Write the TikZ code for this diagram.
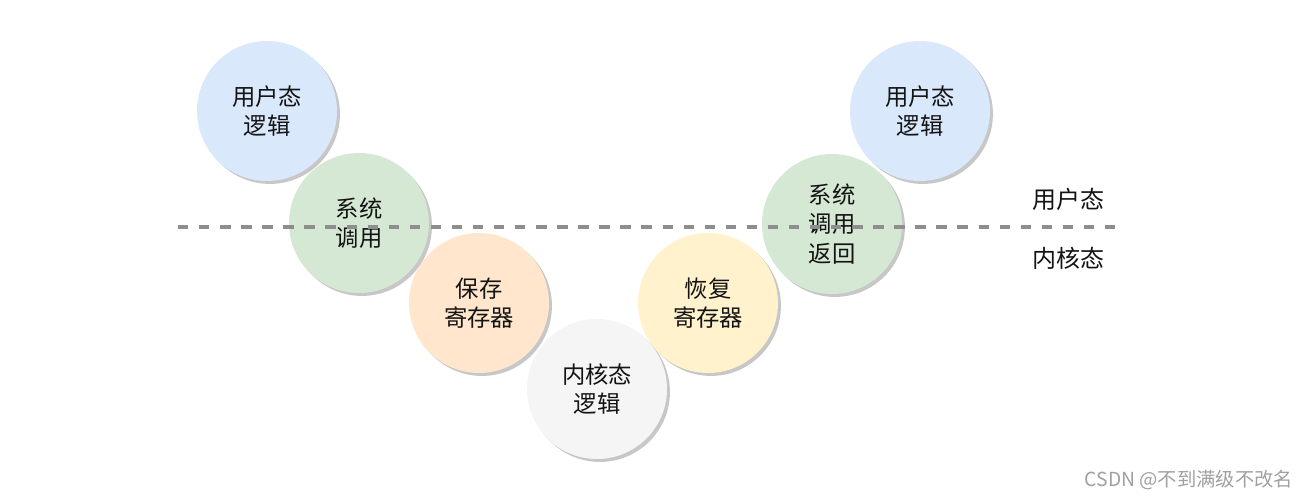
\documentclass[tikz,border=0pt]{standalone}
\usepackage{fontspec}
\setmainfont{Noto Sans CJK SC}
\usepackage{xcolor}
\usetikzlibrary{shadows}
\definecolor{stUser}{HTML}{DAE8FC}
\definecolor{stCall}{HTML}{D5E8D4}
\definecolor{stSave}{HTML}{FFE6CC}
\definecolor{stLoad}{HTML}{FFF2CC}
\definecolor{stKern}{HTML}{F5F5F5}
\definecolor{stInk}{HTML}{141414}
\definecolor{stLine}{HTML}{8E8E8E}
\definecolor{stMark}{HTML}{A0A0A0}
\tikzset{
  st diagram/.style={x=0.75pt, y=-0.75pt, text=stInk,
    font=\fontsize{17.5}{22}\selectfont},
  st ball/.style={circle, minimum size=105pt, inner sep=0pt, align=center,
    general shadow={fill=black!22, shadow xshift=2.2pt, shadow yshift=-2.2pt}},
  st split/.style={draw=stLine, line width=2.6pt, dash pattern=on 7.8pt off 8pt},
  st side/.style={font=\fontsize{18}{20}\selectfont},
  st mark/.style={text=stMark, font=\fontsize{14.5}{16}\selectfont}
}
\begin{document}
\begin{tikzpicture}[st diagram]
\useasboundingbox (0,0) rectangle (1311,500);
% circles, back to front
\node[st ball, fill=stKern] (kernel) at (597,389) {内核态\\逻辑};
\node[st ball, fill=stSave] (save) at (479,303) {保存\\寄存器};
\node[st ball, fill=stLoad] (restore) at (708,303) {恢复\\寄存器};
\node[st ball, fill=stCall] (call) at (359,223) {系统\\调用};
\node[st ball, fill=stCall] (ret) at (832,224) {系统\\调用\\返回};
\node[st ball, fill=stUser] (userL) at (267,111) {用户态\\逻辑};
\node[st ball, fill=stUser] (userR) at (920,111) {用户态\\逻辑};
% user / kernel boundary
\coordinate (splitL) at (178,227);
\coordinate (splitR) at (1122,227);
\draw[st split] (splitL) -- (splitR);
\node[st side] (userSide) at (1068,199) {用户态};
\node[st side] (kernSide) at (1068,258) {内核态};
\node[st mark, anchor=east] (mark) at (1298,480) {CSDN @不到满级不改名};
\end{tikzpicture}
\end{document}
